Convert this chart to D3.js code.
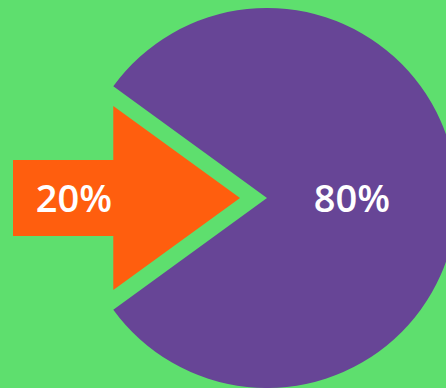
<!DOCTYPE html>
<html>
<head>
<meta charset="utf-8">
<script src="https://cdn.jsdelivr.net/npm/d3@7"></script>
<style>
  html, body { margin: 0; padding: 0; background: #5EDF6E; }
  svg { display: block; }
</style>
</head>
<body>
<svg id="chart" width="446" height="388"></svg>
<script>
// Share of the whole: the highlighted part is drawn as an arrow pulled out of the pie
const categories = ["Part", "Rest"];
const shares = [20, 80];
const labels = ["20%", "80%"];
const colors = ["#FF5E0E", "#674596"];

const W = 446, H = 388;
const cx = 267, cy = 198, radius = 190;
const explode = 27;       // how far the arrow sits from the pie's centre
const tailLeft = 13;      // left end of the arrow shaft
const tailHalf = 38;      // half the shaft thickness

const svg = d3.select("#chart");
const toRad = d => d * Math.PI / 180;

// First slice centred on the left (270° in d3's clockwise-from-top convention)
const firstSpan = 360 * shares[0] / d3.sum(shares);
const start = toRad(270 - firstSpan / 2);
const pie = d3.pie().sort(null).startAngle(start).endAngle(start + 2 * Math.PI);
const arcs = pie(shares);

const arc = d3.arc().innerRadius(0).outerRadius(radius);
const g = svg.append("g").attr("transform", `translate(${cx},${cy})`);

// Remaining share: a regular pie slice
g.append("path")
  .attr("d", arc(arcs[1]))
  .attr("fill", colors[1]);

// Highlighted share: arrow whose head follows the slice's edges
const a0 = arcs[0].startAngle, a1 = arcs[0].endAngle;
const am = (a0 + a1) / 2;
const pt = (a, r) => [r * Math.sin(a), -r * Math.cos(a)];
const apex = pt(am, explode);
const baseX = pt(a0, radius)[0];
const edgeEnd = a => {
  const dx = Math.sin(a), dy = -Math.cos(a);
  const t = (baseX - apex[0]) / dx;
  return [apex[0] + t * dx, apex[1] + t * dy];
};
const headTop = edgeEnd(a1), headBottom = edgeEnd(a0);
const shaftLeft = tailLeft - cx;
const arrow = [
  [shaftLeft, -tailHalf],
  [baseX, -tailHalf],
  headTop,
  apex,
  headBottom,
  [baseX, tailHalf],
  [shaftLeft, tailHalf]
];
g.append("path")
  .attr("d", d3.line()(arrow) + "Z")
  .attr("fill", colors[0]);

// Labels
const labelStyle = sel => sel
  .attr("fill", "#FFFFFF")
  .attr("font-family", "'Open Sans', sans-serif")
  .attr("font-weight", 600)
  .attr("font-size", 38)
  .attr("text-anchor", "middle");

g.append("text")
  .attr("x", shaftLeft + 61)
  .attr("y", 14)
  .text(labels[0])
  .call(labelStyle);

g.append("text")
  .attr("x", 85)
  .attr("y", 14)
  .text(labels[1])
  .call(labelStyle);
</script>
</body>
</html>
